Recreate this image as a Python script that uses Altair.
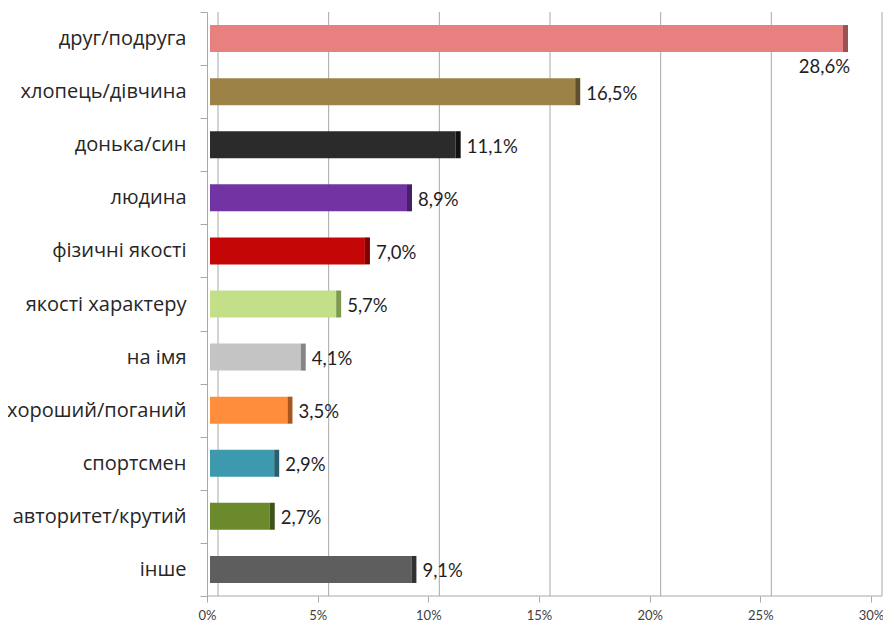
import altair as alt
import pandas as pd

categories = ["друг/подруга", "хлопець/дівчина", "донька/син", "людина",
              "фізичні якості", "якості характеру", "на імя", "хороший/поганий",
              "спортсмен", "авторитет/крутий", "інше"]
values = [28.6, 16.5, 11.1, 8.9, 7.0, 5.7, 4.1, 3.5, 2.9, 2.7, 9.1]
tick_values = [0, 5, 10, 15, 20, 25, 30]

# styles
COLORS = ["#E88080", "#9C8247", "#2B2B2B", "#7234A3", "#C40606", "#C3DF88",
          "#C4C4C4", "#FF8D3B", "#3D9AAE", "#6A8A2C", "#5E5E5E"]
CAP_COLORS = ["#9A5353", "#5F4F2A", "#111111", "#48206A", "#7E0000", "#7E9A4E",
              "#858585", "#A8561E", "#24606E", "#3E5418", "#303030"]
GRID = "#A8A8A8"

df = pd.DataFrame({
    "cat": categories,
    "value": values,
    "zero": [0] * len(values),
    "label": [f"{v:.1f}".replace(".", ",") + "%" for v in values],
})
grid_df = pd.DataFrame({"v": tick_values})
floor_df = pd.DataFrame({"a": [tick_values[0]], "b": [tick_values[-1]]})

xscale = alt.Scale(domain=[0, 30], nice=False, zero=True)
yenc = alt.Y("cat:N", sort=categories,
             scale=alt.Scale(paddingInner=0, paddingOuter=0),
             axis=alt.Axis(title=None, domain=True, domainColor=GRID, ticks=True,
                           tickColor=GRID, tickSize=7, tickBand="extent",
                           labelFont="Open Sans", labelFontSize=20,
                           labelColor="#262626", labelPadding=14, grid=False))

xaxis = alt.Axis(title=None, domain=False, grid=False, ticks=True, tickColor=GRID,
                 tickSize=6, values=tick_values, labelExpr="datum.value + '%'",
                 labelFlush=False, labelFont="Lato", labelFontSize=13,
                 labelColor="#404040", labelPadding=7)

grid = alt.Chart(grid_df).mark_rule(color=GRID, strokeWidth=1, xOffset=11).encode(
    x=alt.X("v:Q", scale=xscale, axis=xaxis)
)
floor = alt.Chart(floor_df).mark_rule(color=GRID, strokeWidth=1, x2Offset=11).encode(
    x=alt.X("a:Q", scale=xscale), x2="b:Q", y=alt.value(584)
)

body = alt.Chart(df).mark_bar(height=27, xOffset=3, x2Offset=3).encode(
    x=alt.X("zero:Q", scale=xscale, axis=xaxis), x2="value:Q", y=yenc,
    color=alt.Color("cat:N", scale=alt.Scale(domain=categories, range=COLORS), legend=None),
)
cap = alt.Chart(df).mark_bar(height=27, xOffset=3, x2Offset=8).encode(
    x=alt.X("value:Q", scale=xscale), x2="value:Q", y=yenc,
    fill=alt.Fill("cat:N", scale=alt.Scale(domain=categories, range=CAP_COLORS), legend=None),
)

labels = alt.Chart(df).transform_filter("datum.value < 25").mark_text(
    align="left", baseline="middle", dx=14, dy=2, font="Lato", fontSize=18.5, color="#1F1F1F"
).encode(x=alt.X("value:Q", scale=xscale), y=yenc, text="label:N")

top_label = alt.Chart(df).transform_filter("datum.value >= 25").mark_text(
    align="right", baseline="middle", dx=10, dy=28, font="Lato", fontSize=18.5, color="#1F1F1F"
).encode(x=alt.X("value:Q", scale=xscale), y=yenc, text="label:N")

chart = alt.layer(grid, floor, body, cap, labels, top_label).resolve_scale(
    color="independent", fill="independent"
).properties(
    width=664, height=584,
    autosize=alt.AutoSizeParams(type="none"),
    padding={"left": 199, "top": 4, "right": 12, "bottom": 25},
).configure_view(stroke=None)

chart.save("out.html", embed_options={"renderer": "svg", "actions": False})
